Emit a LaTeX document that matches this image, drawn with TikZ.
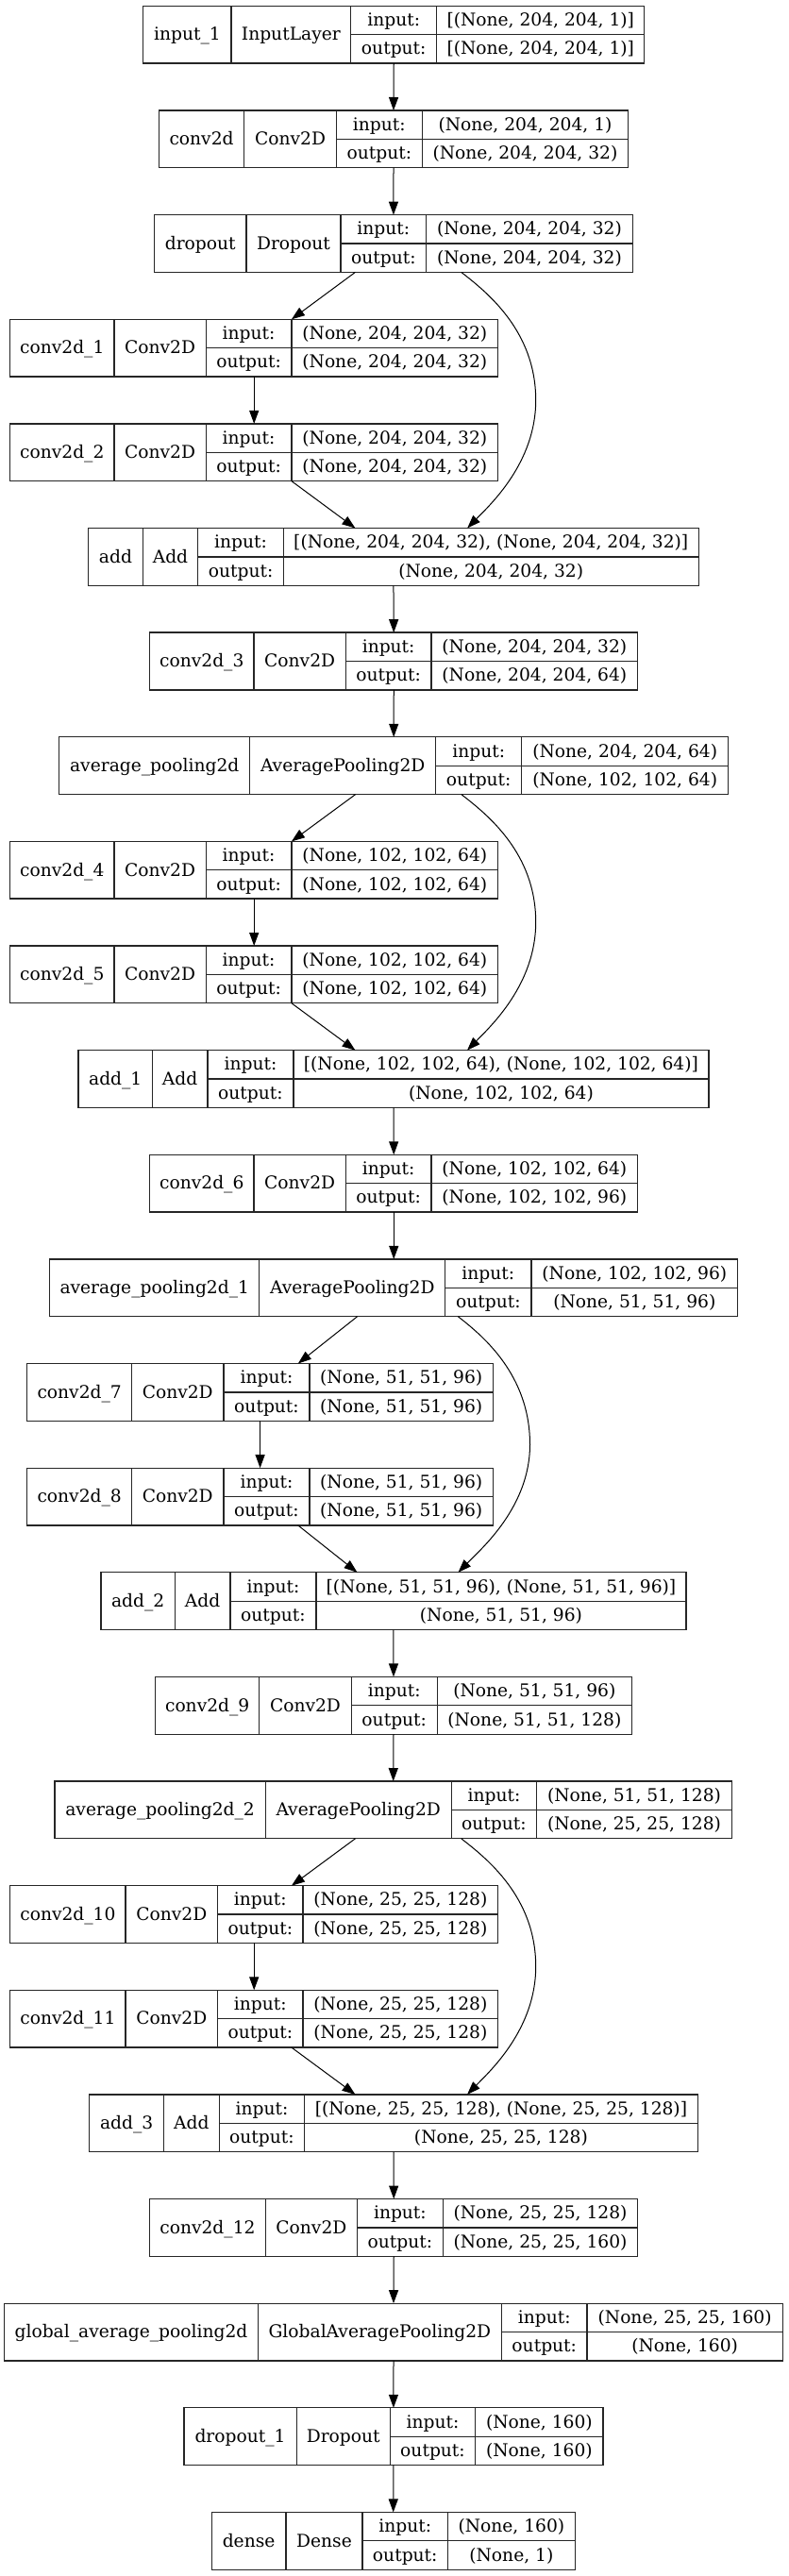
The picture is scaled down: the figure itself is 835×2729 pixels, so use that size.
\documentclass[tikz,border=0pt]{standalone}
\usepackage{fontspec}
\setmainfont{DejaVu Serif}
\usetikzlibrary{arrows.meta,calc,fit}
\tikzset{
  lbox/.style={draw=black!85, line width=1pt, inner sep=0pt, outer sep=0pt},
  lsep/.style={draw=black!85, line width=1pt},
  ltxt/.style={anchor=base, inner sep=0pt, outer sep=0pt, font=\fontsize{14pt}{16pt}\selectfont},
  arr/.style={draw=black, line width=0.75pt, -{Triangle[length=10.5pt,width=7.5pt]}},
}
\newcommand\lyr[7]{%
  \def\lyrname{#1}\def\ty{#2}\def\xa{#3}\def\xb{#4}\def\xc{#5}\def\xd{#6}\def\xe{#7}%
  \node[lbox, fit={(#3,#2) (#7,{#2+60.75})}] (#1) {};
  \draw[lsep] (#4,#2) -- (#4,{#2+60.75});
  \draw[lsep] (#5,#2) -- (#5,{#2+60.75});
  \draw[lsep] (#6,#2) -- (#6,{#2+60.75});
  \draw[lsep] (#5,{#2+30.375}) -- (#7,{#2+30.375});
}
\newcommand\lyrt[4]{%
  \node[ltxt] (\lyrname-n) at ({(\xa+\xb)/2},{\ty+36.6}) {#1};
  \node[ltxt] (\lyrname-c) at ({(\xb+\xc)/2},{\ty+36.6}) {#2};
  \node[ltxt] (\lyrname-il) at ({(\xc+\xd)/2},{\ty+21.2}) {input:};
  \node[ltxt] (\lyrname-ol) at ({(\xc+\xd)/2},{\ty+51.6}) {output:};
  \node[ltxt] (\lyrname-iv) at ({(\xd+\xe)/2},{\ty+21.2}) {#3};
  \node[ltxt] (\lyrname-ov) at ({(\xd+\xe)/2},{\ty+51.6}) {#4};
}
\begin{document}
\begin{tikzpicture}[x=0.75pt,y=-0.75pt]
\useasboundingbox[fill=white] (0,0) rectangle (835,2729);

\lyr{in1}{6.4}{151.8}{245}{371.7}{462.8}{682.7}
\lyrt{input\_1}{InputLayer}{[(None, 204, 204, 1)]}{[(None, 204, 204, 1)]}
\lyr{c0}{117.0}{168.3}{258.8}{356.3}{447.3}{665.7}
\lyrt{conv2d}{Conv2D}{(None, 204, 204, 1)}{(None, 204, 204, 32)}
\lyr{drop}{227.65}{163.5}{261}{361}{451.6}{670.4}
\lyrt{dropout}{Dropout}{(None, 204, 204, 32)}{(None, 204, 204, 32)}
\lyr{c1}{338.3}{10.7}{120.9}{218.3}{308.9}{527.7}
\lyrt{conv2d\_1}{Conv2D}{(None, 204, 204, 32)}{(None, 204, 204, 32)}
\lyr{c2}{448.9}{10.7}{120.9}{218.3}{308.9}{527.7}
\lyrt{conv2d\_2}{Conv2D}{(None, 204, 204, 32)}{(None, 204, 204, 32)}
\lyr{add0}{559.5}{93.7}{151.2}{209.8}{300.3}{740.2}
\lyrt{add}{Add}{[(None, 204, 204, 32), (None, 204, 204, 32)]}{(None, 204, 204, 32)}
\lyr{c3}{670.15}{158.7}{268.9}{366.4}{456.9}{675.8}
\lyrt{conv2d\_3}{Conv2D}{(None, 204, 204, 32)}{(None, 204, 204, 64)}
\lyr{ap0}{780.8}{62.8}{264.7}{461.7}{552.8}{771.6}
\lyrt{average\_pooling2d}{AveragePooling2D}{(None, 204, 204, 64)}{(None, 102, 102, 64)}
\lyr{c4}{891.4}{10.7}{120.9}{218.3}{308.9}{527.7}
\lyrt{conv2d\_4}{Conv2D}{(None, 102, 102, 64)}{(None, 102, 102, 64)}
\lyr{c5}{1002.0}{10.7}{120.9}{218.3}{308.9}{527.7}
\lyrt{conv2d\_5}{Conv2D}{(None, 102, 102, 64)}{(None, 102, 102, 64)}
\lyr{add1}{1112.65}{83.1}{161.4}{219.9}{311}{750.9}
\lyrt{add\_1}{Add}{[(None, 102, 102, 64), (None, 102, 102, 64)]}{(None, 102, 102, 64)}
\lyr{c6}{1223.3}{158.7}{268.9}{366.4}{456.9}{675.8}
\lyrt{conv2d\_6}{Conv2D}{(None, 102, 102, 64)}{(None, 102, 102, 96)}
\lyr{ap1}{1333.9}{52.7}{274.8}{471.8}{562.9}{781.8}
\lyrt{average\_pooling2d\_1}{AveragePooling2D}{(None, 102, 102, 96)}{(None, 51, 51, 96)}
\lyr{c7}{1444.5}{28.8}{139.5}{237}{328}{522.4}
\lyrt{conv2d\_7}{Conv2D}{(None, 51, 51, 96)}{(None, 51, 51, 96)}
\lyr{c8}{1555.15}{28.8}{139.5}{237}{328}{522.4}
\lyrt{conv2d\_8}{Conv2D}{(None, 51, 51, 96)}{(None, 51, 51, 96)}
\lyr{add2}{1665.8}{107}{185.3}{243.9}{335}{726.9}
\lyrt{add\_2}{Add}{[(None, 51, 51, 96), (None, 51, 51, 96)]}{(None, 51, 51, 96)}
\lyr{c9}{1776.4}{164.6}{274.8}{372.2}{463.3}{669.4}
\lyrt{conv2d\_9}{Conv2D}{(None, 51, 51, 96)}{(None, 51, 51, 128)}
\lyr{ap2}{1887.0}{58}{281.2}{478.2}{568.7}{775.4}
\lyrt{average\_pooling2d\_2}{AveragePooling2D}{(None, 51, 51, 128)}{(None, 25, 25, 128)}
\lyr{c10}{1997.65}{10.7}{133.1}{230.6}{321.1}{527.7}
\lyrt{conv2d\_10}{Conv2D}{(None, 25, 25, 128)}{(None, 25, 25, 128)}
\lyr{c11}{2108.3}{10.7}{133.1}{230.6}{321.1}{527.7}
\lyrt{conv2d\_11}{Conv2D}{(None, 25, 25, 128)}{(None, 25, 25, 128)}
\lyr{add3}{2218.9}{94.8}{173.6}{232.2}{322.7}{739.2}
\lyrt{add\_3}{Add}{[(None, 25, 25, 128), (None, 25, 25, 128)]}{(None, 25, 25, 128)}
\lyr{c12}{2329.5}{158.7}{281.2}{378.6}{469.2}{675.8}
\lyrt{conv2d\_12}{Conv2D}{(None, 25, 25, 128)}{(None, 25, 25, 160)}
\lyr{gap}{2440.15}{4.8}{273.2}{531.5}{622}{829.2}
\lyrt{global\_average\_pooling2d}{GlobalAveragePooling2D}{(None, 25, 25, 160)}{(None, 160)}
\lyr{drop1}{2550.8}{194.9}{314.2}{413.2}{503.8}{639}
\lyrt{dropout\_1}{Dropout}{(None, 160)}{(None, 160)}
\lyr{dense}{2661.4}{224.2}{303}{384}{474.5}{609.2}
\lyrt{dense}{Dense}{(None, 160)}{(None, 1)}

% straight vertical connectors
\foreach \a/\b in {in1/c0, c0/drop, c1/c2, add0/c3, c3/ap0, c4/c5, add1/c6, c6/ap1,
  c7/c8, add2/c9, c9/ap2, c10/c11, add3/c12, c12/gap, gap/drop1, drop1/dense}
  \draw[arr] (\a.south) -- (\b.north);

% branch connectors
\draw[arr] ($(drop.south)+(-40.5,0)$) -- ($(c1.north)+(39.7,0)$);
\draw[arr] ($(c2.south)+(39.7,0)$) -- ($(add0.north)+(-40.5,0)$);
\draw[arr] ($(ap0.south)+(-40.5,0)$) -- ($(c4.north)+(39.7,0)$);
\draw[arr] ($(c5.south)+(39.7,0)$) -- ($(add1.north)+(-40.5,0)$);
\draw[arr] ($(ap1.south)+(-38.6,0)$) -- ($(c7.north)+(40.2,0)$);
\draw[arr] ($(c8.south)+(40.2,0)$) -- ($(add2.north)+(-38.4,0)$);
\draw[arr] ($(ap2.south)+(-40.2,0)$) -- ($(c10.north)+(39.7,0)$);
\draw[arr] ($(c11.south)+(39.7,0)$) -- ($(add3.north)+(-40.5,0)$);

% skip connectors
\coordinate (m0) at (567.7,424);
\coordinate (m1) at (567.7,976.9);
\coordinate (m2) at (561.5,1530.3);
\coordinate (m3) at (567.7,2083.3);
\draw[arr] ($(drop.south)+(71.8,0)$) .. controls +(26.2,20.4) and +(0,-74) .. (m0)
  .. controls +(0,66) and +(24.5,-25) .. ($(add0.north)+(78.2,0)$);
\draw[arr] ($(ap0.south)+(71.6,0)$) .. controls +(26.2,20.4) and +(0,-74) .. (m1)
  .. controls +(0,66) and +(24.5,-25) .. ($(add1.north)+(78,0)$);
\draw[arr] ($(ap1.south)+(68,0)$) .. controls +(26.2,20.4) and +(0,-74) .. (m2)
  .. controls +(0,66) and +(24.5,-25) .. ($(add2.north)+(68.5,0)$);
\draw[arr] ($(ap2.south)+(72,0)$) .. controls +(26.2,20.4) and +(0,-74) .. (m3)
  .. controls +(0,66) and +(24.5,-25) .. ($(add3.north)+(78,0)$);
\end{tikzpicture}
\end{document}
